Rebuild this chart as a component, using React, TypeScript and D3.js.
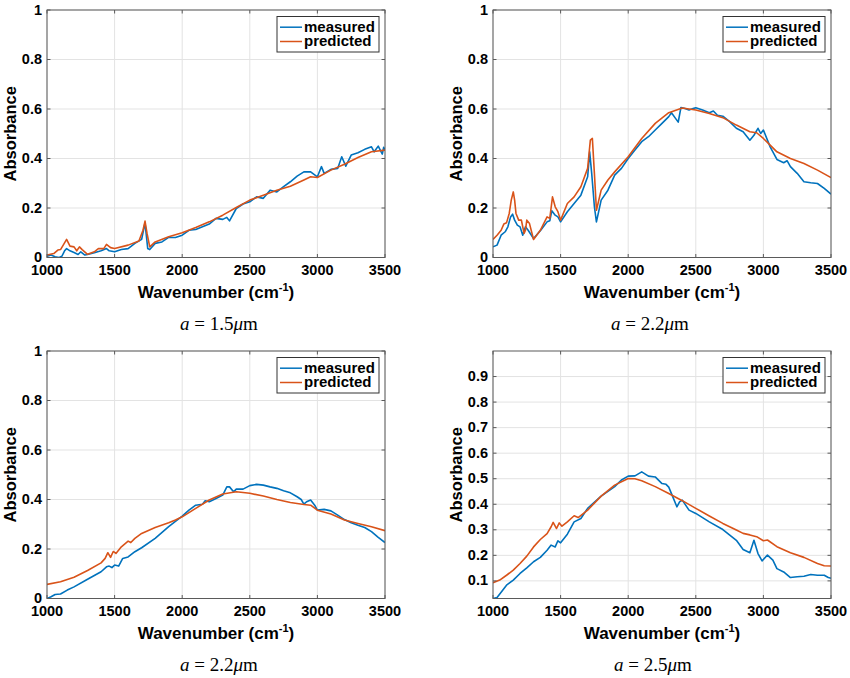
import React from 'react';
import * as d3 from 'd3';

// wavenumber (cm^-1), absorbance pairs
const panel1Measured: [number, number][] = [
  [1000, 0.005], [1030, 0.01], [1060, 0.003], [1090, 0.0], [1110, 0.005], [1130, 0.027], [1145, 0.036],
  [1170, 0.027], [1200, 0.02], [1230, 0.012], [1250, 0.023], [1280, 0.01], [1300, 0.012], [1350, 0.019],
  [1400, 0.027], [1440, 0.036], [1460, 0.027], [1500, 0.023], [1550, 0.032], [1600, 0.036], [1650, 0.057],
  [1700, 0.073], [1725, 0.14], [1745, 0.036], [1760, 0.032], [1800, 0.057], [1850, 0.063], [1900, 0.081],
  [1950, 0.081], [2000, 0.09], [2050, 0.11], [2100, 0.113], [2150, 0.124], [2200, 0.135], [2250, 0.158],
  [2300, 0.154], [2330, 0.162], [2350, 0.148], [2400, 0.198], [2450, 0.216], [2500, 0.225], [2550, 0.245],
  [2600, 0.239], [2650, 0.272], [2700, 0.265], [2750, 0.286], [2800, 0.306], [2850, 0.329], [2900, 0.346],
  [2950, 0.346], [3000, 0.326], [3030, 0.367], [3050, 0.34], [3100, 0.356], [3150, 0.36], [3180, 0.407],
  [3210, 0.369], [3250, 0.414], [3300, 0.423], [3350, 0.437], [3400, 0.447], [3420, 0.427], [3450, 0.45],
  [3480, 0.418], [3490, 0.445], [3500, 0.434],
];
const panel1Predicted: [number, number][] = [
  [1000, 0.01], [1050, 0.016], [1080, 0.03], [1100, 0.032], [1120, 0.05], [1145, 0.073], [1170, 0.046],
  [1200, 0.043], [1220, 0.027], [1240, 0.043], [1260, 0.032], [1300, 0.013], [1350, 0.023], [1380, 0.036],
  [1420, 0.036], [1440, 0.053], [1470, 0.04], [1500, 0.036], [1600, 0.05], [1680, 0.067], [1710, 0.11],
  [1725, 0.147], [1740, 0.097], [1760, 0.043], [1800, 0.063], [1900, 0.084], [2000, 0.1], [2100, 0.121],
  [2200, 0.144], [2300, 0.171], [2400, 0.202], [2500, 0.232], [2600, 0.252], [2700, 0.272], [2800, 0.288],
  [2900, 0.313], [2950, 0.326], [3000, 0.323], [3100, 0.353], [3200, 0.377], [3300, 0.404], [3400, 0.427],
  [3500, 0.434],
];

const panel2Measured: [number, number][] = [
  [1000, 0.043], [1030, 0.05], [1060, 0.09], [1090, 0.104], [1110, 0.124], [1130, 0.164], [1145, 0.175],
  [1160, 0.151], [1180, 0.131], [1200, 0.124], [1220, 0.09], [1240, 0.124], [1260, 0.11], [1300, 0.077],
  [1350, 0.108], [1400, 0.144], [1420, 0.148], [1435, 0.189], [1460, 0.171], [1480, 0.164], [1500, 0.144],
  [1550, 0.185], [1600, 0.218], [1650, 0.252], [1700, 0.326], [1715, 0.427], [1730, 0.34], [1750, 0.205],
  [1765, 0.144], [1800, 0.232], [1850, 0.272], [1900, 0.333], [1950, 0.36], [2000, 0.4], [2050, 0.434],
  [2100, 0.468], [2150, 0.488], [2200, 0.515], [2250, 0.542], [2300, 0.569], [2320, 0.585], [2350, 0.562],
  [2370, 0.547], [2390, 0.606], [2420, 0.602], [2450, 0.596], [2480, 0.602], [2500, 0.605], [2550, 0.596],
  [2600, 0.585], [2630, 0.592], [2660, 0.575], [2700, 0.571], [2750, 0.549], [2800, 0.522], [2850, 0.508],
  [2900, 0.474], [2930, 0.494], [2960, 0.522], [2980, 0.501], [3000, 0.515], [3050, 0.447], [3100, 0.396],
  [3150, 0.383], [3175, 0.391], [3200, 0.367], [3250, 0.34], [3300, 0.306], [3350, 0.302], [3400, 0.299],
  [3450, 0.279], [3500, 0.256],
];
const panel2Predicted: [number, number][] = [
  [1000, 0.073], [1030, 0.09], [1060, 0.11], [1080, 0.135], [1100, 0.14], [1120, 0.178], [1135, 0.232],
  [1150, 0.265], [1160, 0.232], [1170, 0.178], [1190, 0.151], [1210, 0.151], [1230, 0.097], [1240, 0.11],
  [1250, 0.151], [1270, 0.137], [1300, 0.073], [1350, 0.11], [1400, 0.164], [1420, 0.158], [1440, 0.245],
  [1460, 0.205], [1480, 0.185], [1500, 0.151], [1550, 0.218], [1600, 0.245], [1650, 0.286], [1700, 0.36],
  [1720, 0.474], [1735, 0.481], [1750, 0.34], [1765, 0.191], [1800, 0.272], [1850, 0.313], [1900, 0.346],
  [2000, 0.407], [2100, 0.481], [2200, 0.542], [2300, 0.585], [2400, 0.604], [2500, 0.596], [2600, 0.582],
  [2700, 0.565], [2800, 0.535], [2900, 0.508], [2950, 0.504], [3000, 0.481], [3050, 0.454], [3100, 0.427],
  [3200, 0.4], [3300, 0.38], [3400, 0.353], [3500, 0.323],
];

const panel3Measured: [number, number][] = [
  [1000, 0.0], [1030, 0.007], [1060, 0.016], [1100, 0.018], [1150, 0.034], [1200, 0.047], [1300, 0.078],
  [1400, 0.108], [1440, 0.128], [1460, 0.131], [1480, 0.125], [1500, 0.135], [1530, 0.131], [1560, 0.162],
  [1600, 0.168], [1650, 0.189], [1700, 0.205], [1800, 0.243], [1900, 0.29], [2000, 0.333], [2050, 0.357],
  [2100, 0.377], [2150, 0.381], [2170, 0.395], [2200, 0.391], [2250, 0.404], [2300, 0.418], [2330, 0.451],
  [2350, 0.451], [2380, 0.431], [2400, 0.442], [2450, 0.442], [2500, 0.456], [2550, 0.461], [2600, 0.458],
  [2650, 0.451], [2700, 0.445], [2750, 0.435], [2800, 0.427], [2850, 0.411], [2880, 0.4], [2900, 0.381],
  [2920, 0.391], [2950, 0.398], [2980, 0.377], [3000, 0.357], [3050, 0.36], [3100, 0.354], [3150, 0.337],
  [3200, 0.319], [3250, 0.306], [3300, 0.296], [3350, 0.287], [3400, 0.27], [3450, 0.247], [3500, 0.226],
];
const panel3Predicted: [number, number][] = [
  [1000, 0.057], [1100, 0.068], [1200, 0.086], [1300, 0.113], [1400, 0.144], [1430, 0.162], [1450, 0.185],
  [1470, 0.166], [1490, 0.19], [1510, 0.182], [1550, 0.209], [1600, 0.232], [1620, 0.226], [1650, 0.243],
  [1700, 0.263], [1800, 0.287], [1900, 0.306], [1950, 0.317], [2000, 0.33], [2100, 0.364], [2200, 0.398],
  [2300, 0.422], [2400, 0.431], [2500, 0.425], [2600, 0.414], [2700, 0.4], [2800, 0.388], [2900, 0.38],
  [2950, 0.377], [3000, 0.357], [3100, 0.341], [3200, 0.317], [3300, 0.303], [3400, 0.29], [3500, 0.274],
];

const panel4Measured: [number, number][] = [
  [1000, 0.031], [1030, 0.035], [1100, 0.083], [1150, 0.103], [1200, 0.129], [1250, 0.151], [1300, 0.175],
  [1350, 0.192], [1400, 0.22], [1430, 0.24], [1460, 0.233], [1480, 0.257], [1500, 0.249], [1550, 0.283],
  [1600, 0.331], [1650, 0.344], [1700, 0.384], [1800, 0.432], [1900, 0.469], [1950, 0.495], [2000, 0.51],
  [2050, 0.511], [2100, 0.527], [2150, 0.51], [2200, 0.507], [2250, 0.481], [2280, 0.478], [2300, 0.467],
  [2330, 0.429], [2360, 0.39], [2380, 0.409], [2400, 0.416], [2450, 0.377], [2500, 0.364], [2600, 0.331],
  [2700, 0.301], [2800, 0.259], [2850, 0.223], [2900, 0.21], [2930, 0.259], [2960, 0.207], [2990, 0.178],
  [3030, 0.201], [3070, 0.181], [3100, 0.148], [3150, 0.135], [3200, 0.113], [3250, 0.116], [3300, 0.118],
  [3350, 0.125], [3400, 0.122], [3450, 0.122], [3480, 0.113], [3500, 0.11],
];
const panel4Predicted: [number, number][] = [
  [1000, 0.093], [1050, 0.103], [1100, 0.122], [1150, 0.142], [1200, 0.168], [1250, 0.197], [1300, 0.233],
  [1350, 0.262], [1400, 0.285], [1430, 0.312], [1445, 0.329], [1470, 0.305], [1490, 0.327], [1510, 0.314],
  [1550, 0.331], [1600, 0.355], [1630, 0.348], [1700, 0.377], [1800, 0.432], [1900, 0.475], [2000, 0.501],
  [2050, 0.5], [2100, 0.492], [2200, 0.469], [2300, 0.442], [2400, 0.414], [2500, 0.384], [2600, 0.354],
  [2700, 0.325], [2800, 0.299], [2850, 0.286], [2900, 0.28], [2950, 0.273], [3000, 0.257], [3030, 0.26],
  [3100, 0.234], [3200, 0.21], [3300, 0.192], [3400, 0.168], [3450, 0.159], [3500, 0.158],
];

const xTicks = [1000, 1500, 2000, 2500, 3000, 3500];
const yTicksCoarse = [0, 0.2, 0.4, 0.6, 0.8, 1];
const yTicksFine = [0.1, 0.2, 0.3, 0.4, 0.5, 0.6, 0.7, 0.8, 0.9];
const seriesNames = ['measured', 'predicted'];
const captions = ['1.5', '2.2', '2.2', '2.5'];

const BLUE = '#0072BD';
const RED = '#D95319';
const SANS = '"Liberation Sans", Arial, Helvetica, sans-serif';
const SERIF = '"Liberation Serif", "Times New Roman", serif';

type PanelProps = {
  id: string;
  left: number;
  top: number;
  yDomain: [number, number];
  yTicks: number[];
  measured: [number, number][];
  predicted: [number, number][];
  caption: string;
  captionX: number;
};

const PW = 338;
const PH = 247.5;

function Panel({ id, left, top, yDomain, yTicks, measured, predicted, caption, captionX }: PanelProps) {
  const x = d3.scaleLinear().domain([1000, 3500]).range([0, PW]);
  const y = d3.scaleLinear().domain(yDomain).range([PH, 0]);
  const line = d3.line<[number, number]>().x(d => x(d[0])).y(d => y(d[1]));
  const tl = 3.5;
  const axisColor = '#5a5a5a';

  return (
    <g transform={`translate(${left},${top})`}>
      <defs>
        <clipPath id={`clip-${id}`}>
          <rect x={0} y={0} width={PW} height={PH} />
        </clipPath>
      </defs>
      <rect x={0} y={0} width={PW} height={PH} fill="#fff" />
      {/* grid */}
      {xTicks.map(t => (
        <line key={`gx${t}`} x1={x(t)} x2={x(t)} y1={0} y2={PH} stroke="#e3e3e3" strokeWidth={1} />
      ))}
      {yTicks.map(t => (
        <line key={`gy${t}`} x1={0} x2={PW} y1={y(t)} y2={y(t)} stroke="#e3e3e3" strokeWidth={1} />
      ))}
      {/* curves */}
      <g clipPath={`url(#clip-${id})`} fill="none" strokeWidth={1.6} strokeLinejoin="round">
        <path d={line(measured) ?? ''} stroke={BLUE} />
        <path d={line(predicted) ?? ''} stroke={RED} />
      </g>
      {/* inward ticks on all sides */}
      {xTicks.map(t => (
        <g key={`tx${t}`} stroke={axisColor} strokeWidth={1}>
          <line x1={x(t)} x2={x(t)} y1={PH} y2={PH - tl} />
          <line x1={x(t)} x2={x(t)} y1={0} y2={tl} />
        </g>
      ))}
      {yTicks.map(t => (
        <g key={`ty${t}`} stroke={axisColor} strokeWidth={1}>
          <line x1={0} x2={tl} y1={y(t)} y2={y(t)} />
          <line x1={PW} x2={PW - tl} y1={y(t)} y2={y(t)} />
        </g>
      ))}
      <rect x={0} y={0} width={PW} height={PH} fill="none" stroke={axisColor} strokeWidth={1} />
      {/* tick labels */}
      <g fontFamily={SANS} fontWeight="bold" fontSize={14.5} fill="#000">
        {xTicks.map(t => (
          <text key={`lx${t}`} x={x(t)} y={PH + 17.5} textAnchor="middle">{t}</text>
        ))}
        {yTicks.map(t => (
          <text key={`ly${t}`} x={-5} y={y(t) + 4.5} textAnchor="end">{String(t)}</text>
        ))}
      </g>
      {/* axis labels */}
      <text x={PW / 2} y={PH + 40.5} textAnchor="middle" fontFamily={SANS} fontWeight="bold" fontSize={17}>
        Wavenumber (cm
        <tspan fontSize={11} dy={-7}>-1</tspan>
        <tspan dy={7}>)</tspan>
      </text>
      <text
        transform={`translate(${-31.5},${PH / 2}) rotate(-90)`}
        textAnchor="middle"
        fontFamily={SANS}
        fontWeight="bold"
        fontSize={16.5}
      >
        Absorbance
      </text>
      {/* legend */}
      <g transform={`translate(${PW - 6 - 102},6.5)`}>
        <rect x={0} y={0} width={102} height={35.5} fill="#fff" stroke="#333" strokeWidth={1} />
        {seriesNames.map((name, i) => (
          <g key={name}>
            <line x1={3} x2={25} y1={10.7 + i * 14.3} y2={10.7 + i * 14.3} stroke={i === 0 ? BLUE : RED} strokeWidth={1.5} />
            <text x={27} y={15.5 + i * 14} fontFamily={SANS} fontWeight="bold" fontSize={15}>{name}</text>
          </g>
        ))}
      </g>
      {/* caption */}
      <text x={captionX - left} y={PH + 72.5} textAnchor="middle" fontFamily={SERIF} fontSize={19}>
        <tspan fontStyle="italic">a</tspan>
        {' = ' + caption}
        <tspan fontStyle="italic">μ</tspan>m
      </text>
    </g>
  );
}

export default function App() {
  return (
    <svg
      width={850}
      height={678}
      style={{ position: 'absolute', left: 0, top: 0, background: '#fff' }}
    >
      <rect width={850} height={678} fill="#fff" />
      <Panel id="p1" left={47} top={10} yDomain={[0, 1]} yTicks={yTicksCoarse}
        measured={panel1Measured} predicted={panel1Predicted} caption={captions[0]} captionX={219} />
      <Panel id="p2" left={493} top={10} yDomain={[0, 1]} yTicks={yTicksCoarse}
        measured={panel2Measured} predicted={panel2Predicted} caption={captions[1]} captionX={650} />
      <Panel id="p3" left={47} top={351} yDomain={[0, 1]} yTicks={yTicksCoarse}
        measured={panel3Measured} predicted={panel3Predicted} caption={captions[2]} captionX={219} />
      <Panel id="p4" left={493} top={351} yDomain={[0.031, 1]} yTicks={yTicksFine}
        measured={panel4Measured} predicted={panel4Predicted} caption={captions[3]} captionX={653} />
    </svg>
  );
}
